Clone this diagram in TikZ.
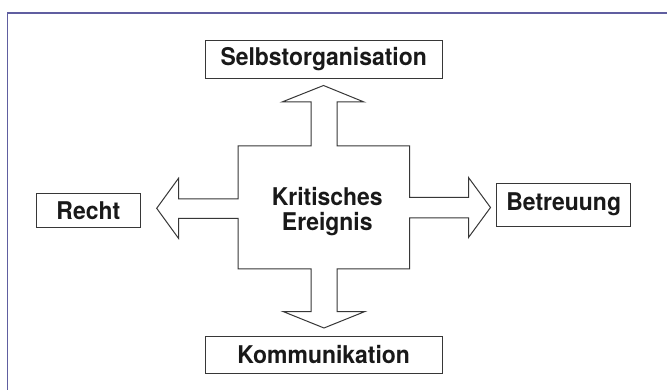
\documentclass[tikz,border=0pt]{standalone}
\usepackage{fontspec}
\setmainfont[FakeStretch=0.94]{TeX Gyre Heros}
\definecolor{framecol}{RGB}{96,94,160}
\definecolor{linecol}{RGB}{55,55,55}
\begin{document}
\begin{tikzpicture}[x=1pt,y=-1pt,
  lbl/.style={draw=linecol,line width=0.8pt,inner sep=0pt,font=\fontsize{24.4}{25}\selectfont\bfseries,text=black!90},
  crossarrow/.style={draw=linecol,line width=1pt,line join=miter}]
\useasboundingbox (0,0) rectangle (667,390);
\fill[white] (0,0) rectangle (667,390);
\draw[framecol,line width=1.5pt] (7.5,390) -- (7.5,13) -- (667,13);
% cross-shaped arrow
\draw[crossarrow] (323.5,85.5) -- (364,102) -- (337,102) -- (337,146) -- (409.5,146)
  -- (409.5,197.5) -- (468.5,197.5) -- (468.5,177.5) -- (490.5,207.5) -- (468.5,237.5)
  -- (468.5,218) -- (409.5,218) -- (409.5,269) -- (337,269) -- (337,311.5) -- (365,311.5)
  -- (324,328) -- (283,311.5) -- (311,311.5) -- (311,269) -- (238,269) -- (238,218.5)
  -- (178.5,218.5) -- (178.5,238.3) -- (156.7,208.3) -- (178.5,178.3) -- (178.5,198.8)
  -- (238,198.8) -- (238,146) -- (311,146) -- (311,102) -- (282,102) -- cycle;
\node[font=\fontsize{24.4}{25}\selectfont\bfseries,align=center,text=black!90,inner sep=0pt,anchor=base]
  (center) at (327.3,231) {Kritisches\\Ereignis};
\node[lbl,minimum width=237.5pt,minimum height=38pt] (top) at (323.7,59) {Selbstorganisation};
\node[lbl,minimum width=237.3pt,minimum height=37.3pt] (bottom) at (323.7,354.7) {Kommunikation};
\node[lbl,minimum width=103.3pt,minimum height=34.4pt] (left) at (88.3,210.5) {Recht};
\node[lbl,minimum width=134pt,minimum height=42.7pt] (right) at (563.7,204.7) {Betreuung};
\end{tikzpicture}
\end{document}
